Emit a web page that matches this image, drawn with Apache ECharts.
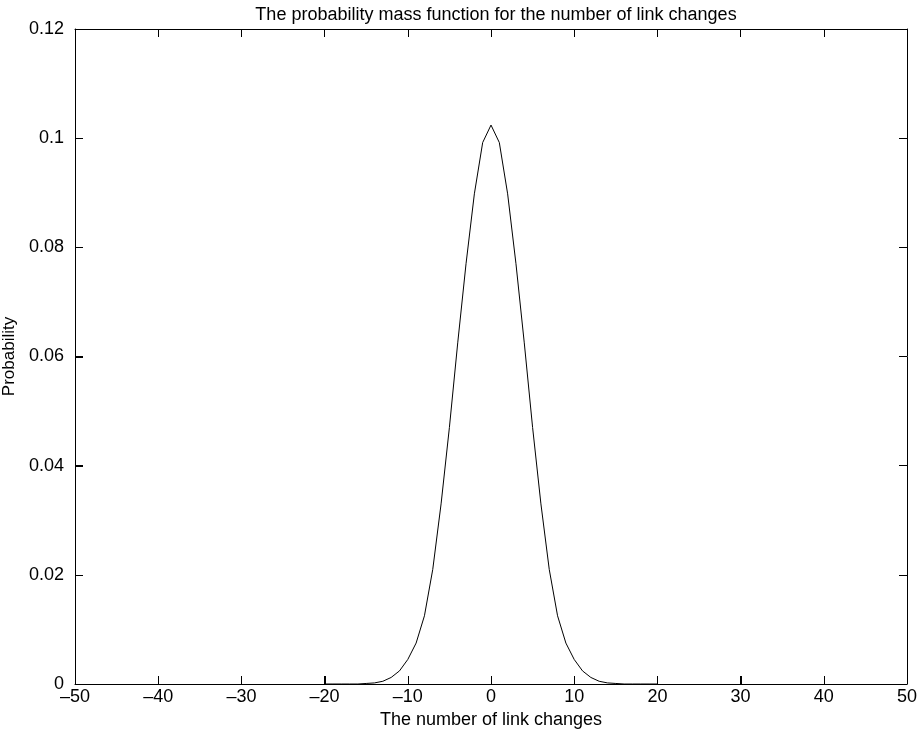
<!DOCTYPE html>
<html>
<head>
<meta charset="utf-8">
<script src="https://cdn.jsdelivr.net/npm/echarts@6/dist/echarts.min.js"></script>
<style>
  html, body { margin: 0; padding: 0; background: #fff; }
  #chart { width: 921px; height: 740px; }
</style>
</head>
<body>
<div id="chart"></div>
<script>
// number of link changes
var changes = [-20, -19, -18, -17, -16, -15, -14, -13, -12, -11, -10, -9, -8, -7, -6, -5, -4, -3, -2, -1,
  0, 1, 2, 3, 4, 5, 6, 7, 8, 9, 10, 11, 12, 13, 14, 15, 16, 17, 18, 19, 20];
// probability
var probability = [0, 0, 0, 0, 0, 0.0001, 0.0002, 0.0005, 0.0012, 0.0024, 0.0045, 0.0075, 0.0125, 0.021, 0.033, 0.047, 0.0625, 0.077, 0.0898, 0.0992,
  0.1024, 0.0992, 0.0898, 0.077, 0.0625, 0.047, 0.033, 0.021, 0.0125, 0.0075, 0.0045, 0.0024, 0.0012, 0.0005, 0.0002, 0.0001, 0, 0, 0, 0, 0];

var xTicks = [-50, -40, -30, -20, -10, 0, 10, 20, 30, 40, 50];
var yTicks = [0, 0.02, 0.04, 0.06, 0.08, 0.1, 0.12];

var points = [];
for (var i = 0; i < changes.length; i++) {
  points.push([changes[i], probability[i]]);
}
var xMin = xTicks[0], xMax = xTicks[xTicks.length - 1];
var yMin = yTicks[0], yMax = yTicks[yTicks.length - 1];

var font = 'Liberation Sans, Arial, sans-serif';
var TICK = 8;

function line() {
  return { show: true, onZero: false, lineStyle: { color: '#000', width: 1 } };
}
function inTicks() {
  return { show: true, inside: true, length: TICK, lineStyle: { color: '#000', width: 1 } };
}

var myChart = echarts.init(document.getElementById('chart'));

var option = {
  backgroundColor: '#fff',
  animation: false,
  title: {
    text: 'The probability mass function for the number of link changes',
    left: 491,
    textAlign: 'center',
    top: 1,
    textStyle: { fontFamily: font, fontSize: 18, fontWeight: 'normal', color: '#000' }
  },
  grid: { left: 75, right: 14, top: 29, bottom: 56, containLabel: false, outerBoundsMode: 'none' },
  xAxis: [
    {
      type: 'value',
      position: 'bottom',
      min: xMin,
      max: xMax,
      interval: 10,
      name: 'The number of link changes',
      nameLocation: 'middle',
      nameGap: 25,
      nameTextStyle: { fontFamily: font, fontSize: 18, color: '#000' },
      axisLine: line(),
      axisTick: inTicks(),
      axisLabel: {
        fontFamily: font, fontSize: 18, color: '#000', margin: 4,
        formatter: function (v) { return v < 0 ? '\u2013' + Math.abs(v) : String(v); }
      },
      splitLine: { show: false }
    },
    {
      type: 'value',
      position: 'top',
      min: xMin,
      max: xMax,
      interval: 10,
      axisLine: line(),
      axisTick: inTicks(),
      axisLabel: { show: false },
      splitLine: { show: false }
    }
  ],
  yAxis: [
    {
      type: 'value',
      position: 'left',
      min: yMin,
      max: yMax,
      interval: 0.02,
      name: 'Probability',
      nameLocation: 'middle',
      nameRotate: 90,
      nameGap: 52,
      nameTextStyle: { fontFamily: font, fontSize: 17, color: '#000' },
      axisLine: line(),
      axisTick: inTicks(),
      axisLabel: { fontFamily: font, fontSize: 18, color: '#000', margin: 11 },
      splitLine: { show: false }
    },
    {
      type: 'value',
      position: 'right',
      min: yMin,
      max: yMax,
      interval: 0.02,
      axisLine: line(),
      axisTick: inTicks(),
      axisLabel: { show: false },
      splitLine: { show: false }
    }
  ],
  series: [
    {
      type: 'line',
      xAxisIndex: 0,
      yAxisIndex: 0,
      data: points,
      showSymbol: false,
      symbol: 'none',
      smooth: false,
      lineStyle: { color: '#000', width: 1 }
    }
  ]
};

myChart.setOption(option);

// bottom / left inward ticks, positioned through the chart's own scales
var marks = [];
xTicks.forEach(function (x) {
  var p = myChart.convertToPixel({ xAxisIndex: 0, yAxisIndex: 0 }, [x, yMin]);
  var px = Math.round(p[0]) + 0.5, py = Math.round(p[1]);
  marks.push({ type: 'line', z: 100, silent: true,
    shape: { x1: px, y1: py, x2: px, y2: py - TICK },
    style: { stroke: '#000', lineWidth: 1 } });
});
yTicks.forEach(function (y) {
  var p = myChart.convertToPixel({ xAxisIndex: 0, yAxisIndex: 0 }, [xMin, y]);
  var px = Math.round(p[0]), py = Math.round(p[1]) + 0.5;
  marks.push({ type: 'line', z: 100, silent: true,
    shape: { x1: px, y1: py, x2: px + TICK, y2: py },
    style: { stroke: '#000', lineWidth: 1 } });
});
myChart.setOption({ graphic: marks });
</script>
</body>
</html>
